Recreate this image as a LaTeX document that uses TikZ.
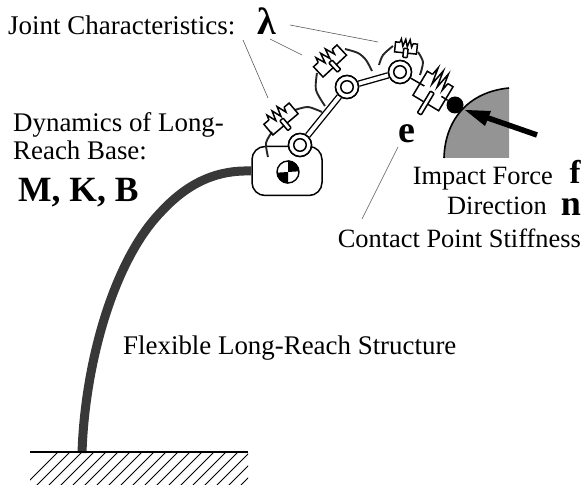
\documentclass[tikz,border=0pt]{standalone}
\usepackage{fontspec}
\setmainfont{Liberation Serif}
\usetikzlibrary{calc}
\newcommand{\sdunit}[6]{%
\begin{scope}[shift={(#1,#2)},rotate=#3]
\draw[mech] ({-#4*.3},{-#5/2}) -- ({-#4/2},{-#5/2}) -- ({-#4/2},{#5/2}) -- ({#4/2},{#5/2}) -- ({#4/2},{-#5/2}) -- ({#4*.3},{-#5/2});
\draw[mech,line join=miter] ({-#4*.3},{-#5/2}) -- ({-#4*.25},{-#5/2-#6}) -- ({-#4*.15},{-#5/2+#6}) -- ({-#4*.05},{-#5/2-#6}) -- ({#4*.05},{-#5/2+#6}) -- ({#4*.15},{-#5/2-#6}) -- ({#4*.25},{-#5/2+#6}) -- ({#4*.3},{-#5/2});
\draw[mech,fill=white,rounded corners=.8] (-2.2,{#5/2-#5*.45}) rectangle (2.2,{#5/2+#5*.45});
\end{scope}}
\tikzset{
 mech/.style={draw=black,line width=1.5},
 label/.style={anchor=base west,inner sep=0,font=\fontsize{26.9}{27}\selectfont},
 labelr/.style={anchor=base east,inner sep=0,font=\fontsize{26.4}{26}\selectfont},
 big/.style={anchor=base,inner sep=0,font=\fontsize{36}{36}\selectfont\bfseries},
 leader/.style={draw=black!65,line width=.6},
 joint/.style={circle,draw=black,line width=1.5,fill=white,minimum size=23,inner sep=0},
 pin/.style={circle,draw=black,line width=1.5,fill=white,minimum size=12.5,inner sep=0},
 jointarc/.style={draw=black!85,line width=1.9},
 beam/.style={draw=black!78,line width=9},
}
\begin{document}
\begin{tikzpicture}[x=1pt,y=-1pt]
\useasboundingbox (0,0) rectangle (587,489);
% ground
\begin{scope}
\clip (30,452) rectangle (248,484);
\foreach \i in {0,...,22} {\draw[black,line width=1] ({20+\i*12},490) -- ({60+\i*12},450);}
\end{scope}
\coordinate (gl) at (30,452);
\coordinate (gr) at (248,452);
\coordinate (beamfoot) at (82,453);
\coordinate (beammid) at (160,213);
% base
\node[draw=black,line width=1.5,fill=white,rounded corners=13,minimum width=70,minimum height=49,inner sep=0] (base) at (287,171) {};
% beam
\draw[beam] (beamfoot) .. controls (85,360) and (115,260) .. (beammid) .. controls (190,180) and (220,170) .. (base.west);
\draw[black,line width=1.5] (gl) -- (gr);
% centre of mass
\node[circle,draw=black,line width=1.4,fill=white,minimum size=22,inner sep=0] (com) at (288,172) {};
\fill (com.center) -- (com.north) arc[start angle=-90,end angle=0,radius=11] -- cycle;
\fill (com.center) -- (com.south) arc[start angle=90,end angle=180,radius=11] -- cycle;
% joint arcs
\draw[jointarc] plot[smooth] coordinates {(268,157) (266,143) (272,132)};
\draw[jointarc] plot[smooth] coordinates {(295,110) (308,107) (322,112)};
\draw[jointarc] plot[smooth] coordinates {(325,106) (316,90) (317,73)};
\draw[jointarc] plot[smooth] coordinates {(345,49) (358,53) (366,60) (372,71)};
\draw[jointarc] plot[smooth] coordinates {(379,65) (383,55) (393,46)};
\draw[jointarc] plot[smooth] coordinates {(418,52) (423,62) (420,75)};
% obstacle
\fill[black!42] (444,158) .. controls (445,120) and (468,92) .. (509,88) -- (509,158) -- cycle;
\draw[black,line width=1.6] (444,158) .. controls (445,120) and (468,92) .. (509,88);
% links
\node[joint] (j1) at (300,145) {};
\node[joint] (j2) at (347,87) {};
\node[joint] (j3) at (400,72) {};
\draw[black,line width=6.5] (j1) -- (j2);
\draw[white,line width=3.8] (j1) -- (j2);
\draw[black,line width=6.5] (j2) -- (j3);
\draw[white,line width=3.8] (j2) -- (j3);
\node[joint] at (j1) {};
\node[joint] at (j2) {};
\node[joint] at (j3) {};
\node[pin] at (j1) {};
\node[pin] at (j2) {};
\node[pin] at (j3) {};
% spring-damper units
\sdunit{281}{119}{40}{33}{14}{5}
\sdunit{330}{61}{43}{32}{14}{5}
\sdunit{406}{48}{-6}{22}{10}{3.5}
\coordinate (u4) at (433,91);
\draw[mech] (j3) -- (u4);
\node[circle,fill=black,minimum size=17,inner sep=0] (ball) at (455,105) {};
\draw[mech] (u4) -- (ball);
\fill[white] (u4) circle (10);
\sdunit{433}{91}{-31}{30}{28}{8.5}
% force arrow
\coordinate (ftail) at (537,135);
\coordinate (ftip) at (465,110);
\draw[black,line width=5.5] (ftail) -- ($(ftip)!.25!(ftail)$);
\fill (ftip) -- (491,111) -- (485,126) -- cycle;
% leaders
\coordinate (l1a) at (290,25); \coordinate (l1b) at (378,42);
\coordinate (l2a) at (270,39); \coordinate (l2b) at (302,55);
\coordinate (l3a) at (243,40); \coordinate (l3b) at (268,98);
\coordinate (l4a) at (398,147); \coordinate (l4b) at (362,219);
\draw[leader] (l1a) -- (l1b);
\draw[leader] (l2a) -- (l2b);
\draw[leader] (l3a) -- (l3b);
\draw[leader] (l4a) -- (l4b);
% text
\node[label,font=\fontsize{27}{27}\selectfont] (tj) at (8,35) {Joint Characteristics:};
\node[big,font=\fontsize{38}{38}\selectfont\bfseries] (tl) at (267,35) {λ};
\node[label] (td1) at (13,132) {Dynamics of Long-};
\node[label] (td2) at (13,160) {Reach Base:};
\node[label,font=\fontsize{35.5}{35}\selectfont\bfseries] (tm) at (18,202) {M, K, B};
\node[big,font=\fontsize{38}{38}\selectfont\bfseries] (te) at (407,143) {e};
\node[labelr] (ti) at (553,185) {Impact Force};
\node[big,font=\fontsize{33}{33}\selectfont\bfseries] (tf) at (575,184) {f};
\node[labelr] (tdir) at (547,215) {Direction};
\node[big,font=\fontsize{36}{36}\selectfont\bfseries] (tn) at (571,216) {n};
\node[labelr] (tc) at (581,248) {Contact Point Stiffness};
\node[label] (tfl) at (123,355) {Flexible Long-Reach Structure};
\end{tikzpicture}
\end{document}
